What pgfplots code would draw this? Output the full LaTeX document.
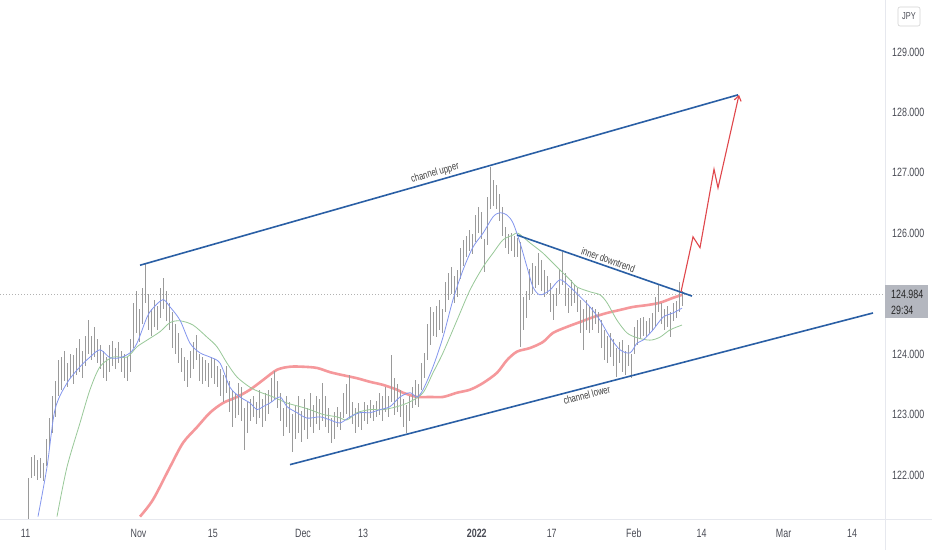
\documentclass[border=0pt]{standalone}
\usepackage{pgfplots}
\pgfplotsset{compat=1.18}
\usepackage{pgfplotstable}
\usetikzlibrary{arrows.meta}
\usepackage{fontspec}
\setmainfont{Liberation Sans}[FakeStretch=0.74]
\definecolor{candle}{HTML}{9A9A9A}
\definecolor{maBlue}{HTML}{8396EE}
\definecolor{maGreen}{HTML}{98C898}
\definecolor{maRed}{HTML}{F4868A}
\definecolor{trend}{HTML}{2A5FA5}
\definecolor{arrowRed}{HTML}{E0474C}
\definecolor{sep}{HTML}{E6E8EE}
\definecolor{lbl}{HTML}{4A4C55}
\definecolor{pbox}{HTML}{B4B7BF}

\pgfplotstableread{
x lo hi
28 121.20 121.95
31 121.95 122.30
34 121.98 122.33
37 121.92 122.25
40 121.95 122.28
43 121.90 122.20
46 122.15 122.60
49 122.45 122.95
52 122.70 123.30
55 122.95 123.55
58 123.30 123.90
61 123.40 123.95
64 123.55 124.05
67 123.45 123.85
70 123.60 124.00
73 123.50 123.98
76 123.65 124.10
79 123.70 124.25
82 123.60 124.05
85 123.80 124.30
88 124.00 124.56
91 123.90 124.30
94 123.95 124.45
97 123.85 124.25
100 123.75 124.15
103 123.60 124.05
106 123.55 123.95
109 123.70 124.15
112 123.80 124.22
115 123.75 124.10
118 123.85 124.20
121 123.70 124.05
124 123.60 124.00
127 123.55 123.95
130 123.70 124.25
133 124.10 124.85
136 124.35 125.05
139 124.20 124.75
142 124.50 125.10
145 124.85 125.51
148 124.40 125.00
151 124.30 124.75
154 124.45 124.90
157 124.40 124.80
160 124.60 125.10
163 124.75 125.26
166 124.55 125.05
169 124.40 124.85
172 124.10 124.70
175 124.00 124.50
178 123.85 124.35
181 123.70 124.10
184 123.55 123.95
187 123.45 123.90
190 123.60 124.05
193 123.75 124.20
196 123.90 124.31
199 123.55 124.00
202 123.50 123.95
205 123.55 123.90
208 123.45 123.85
211 123.60 123.95
214 123.50 123.92
217 123.45 123.80
220 123.30 123.75
223 123.20 123.65
226 123.35 123.80
229 123.05 123.55
232 122.80 123.40
235 122.95 123.35
238 123.00 123.52
241 122.90 123.45
244 122.42 123.10
247 122.70 123.20
250 122.90 123.25
253 122.95 123.30
256 122.85 123.20
259 122.95 123.40
262 122.80 123.25
265 122.90 123.35
268 123.00 123.40
271 123.20 123.60
274 123.25 123.72
277 123.10 123.55
280 122.90 123.35
283 122.65 123.10
286 122.80 123.30
289 122.70 123.20
292 122.38 123.00
295 122.60 123.15
298 122.70 123.30
301 122.55 123.05
304 122.75 123.25
307 122.60 123.10
310 122.80 123.35
313 122.70 123.15
316 122.85 123.30
319 122.75 123.25
322 122.90 123.52
325 122.80 123.30
328 122.70 123.10
331 122.53 122.95
334 122.60 123.05
337 122.80 123.12
340 122.75 123.05
343 122.95 123.35
346 123.00 123.50
349 122.95 123.65
352 122.85 123.20
355 122.70 123.10
358 122.80 123.19
361 122.75 123.05
364 122.90 123.20
367 122.85 123.15
370 122.95 123.24
373 122.90 123.15
376 122.95 123.22
379 123.00 123.35
382 122.90 123.30
385 123.05 123.46
388 122.95 123.30
391 123.20 123.98
394 123.00 123.60
397 123.05 123.50
400 122.95 123.41
403 122.80 123.25
406 122.70 123.15
409 122.90 123.30
412 123.10 123.45
415 123.15 123.57
418 123.12 123.50
421 123.40 123.85
424 123.60 124.02
427 123.90 124.50
430 124.15 124.78
433 124.30 124.70
436 124.28 124.80
439 124.40 124.90
442 124.35 124.75
445 124.70 125.20
448 124.90 125.35
451 125.00 125.44
454 124.85 125.30
457 124.95 125.40
460 125.25 125.75
463 125.45 125.89
466 125.60 125.95
469 125.70 126.05
472 125.65 125.98
475 125.85 126.30
478 126.00 126.43
481 125.90 126.35
484 125.36 125.90
487 125.80 126.60
490 126.40 127.10
493 126.45 126.88
496 126.40 126.80
499 126.20 126.65
502 125.95 126.43
505 125.75 126.10
508 125.65 125.98
511 125.70 126.00
514 125.61 125.95
517 125.60 125.92
520 124.12 125.85
523 124.40 124.95
526 124.60 125.05
529 124.90 125.40
532 125.00 125.50
535 125.10 125.45
538 125.15 125.67
541 125.05 125.55
544 124.95 125.39
547 125.00 125.30
550 124.70 125.17
553 124.56 125.00
556 124.80 125.10
559 125.00 125.40
562 125.15 125.69
565 124.80 125.34
568 124.68 125.10
571 124.80 125.23
574 124.85 125.15
577 124.70 125.10
580 124.35 124.90
583 124.07 124.75
586 124.40 124.90
589 124.35 124.80
592 124.40 124.78
595 124.50 124.75
598 124.35 124.70
601 124.10 124.56
604 123.90 124.40
607 123.85 124.30
610 123.95 124.35
613 123.80 124.25
616 123.62 124.10
619 123.85 124.20
622 123.70 124.23
625 123.65 124.05
628 123.80 124.15
631 123.61 124.00
634 124.00 124.45
637 124.15 124.56
640 124.25 124.60
643 124.30 124.62
646 124.28 124.55
649 124.35 124.60
652 124.38 124.68
655 124.45 124.95
658 124.70 125.14
661 124.50 124.85
664 124.40 124.75
667 124.45 124.80
670 124.28 124.70
673 124.55 124.85
676 124.60 124.88
679 124.70 125.19
682 124.80 125.05
}\bars

\begin{document}
\begin{tikzpicture}
\useasboundingbox (0,0) rectangle (932bp,550bp);
\fill[white] (0,0) rectangle (932bp,550bp);
\begin{axis}[
  at={(0,31bp)}, anchor=south west,
  scale only axis, width=885bp, height=519bp,
  xmin=0, xmax=885, ymin=121.27, ymax=129.86,
  axis line style={draw=none}, tick style={draw=none}, major tick length=0pt,
  xtick={25.6,138.5,212.8,303,363,476.8,551.7,633.8,701.5,783.6,852},
  xticklabels={11,Nov,15,Dec,13,\textbf{2022},17,Feb,14,Mar,14},
  xticklabel style={anchor=base, yshift=-18.5bp, font=\fontsize{12bp}{14bp}\selectfont, text=lbl},
  ytick={122,123,124,126,127,128,129},
  yticklabel pos=right,
  yticklabel={\pgfmathprintnumber[fixed,fixed zerofill,precision=3]{\tick}},
  /pgf/number format/assume math mode=true,
  yticklabel style={anchor=west, inner sep=0pt, xshift=7bp, font=\fontsize{12bp}{14bp}\selectfont, text=lbl},
]
% last price dotted line
\addplot[color=gray!60, line width=0.6bp, dash pattern=on 1bp off 2bp] coordinates {(0,124.984) (885,124.984)};
% 200 MA
\addplot[color=maRed, line width=2.6bp, opacity=0.85, smooth] coordinates {
(140,121.31)(153,121.59)(170,122.13)(183,122.53)(197,122.79)(210,123.03)(223,123.19)(237,123.29)(250,123.41)(263,123.57)(277,123.74)(290,123.79)(303,123.79)(317,123.77)(330,123.70)(343,123.65)(357,123.60)(370,123.54)(383,123.49)(397,123.41)(403,123.36)(417,123.29)(430,123.29)(443,123.29)(457,123.36)(470,123.41)(483,123.52)(497,123.69)(507,123.90)(517,124.04)(530,124.10)(543,124.20)(553,124.35)(567,124.45)(580,124.53)(593,124.61)(607,124.68)(620,124.73)(633,124.78)(647,124.81)(660,124.85)(673,124.93)(682,124.98)};
% candles
\addplot[draw=none, mark=none, forget plot,
  error bars/.cd, y dir=both, y explicit, error mark=none,
  error bar style={draw=candle, solid, line width=1.0bp}]
  table[x=x, y expr=(\thisrow{lo}+\thisrow{hi})/2, y error expr=(\thisrow{hi}-\thisrow{lo})/2] {\bars};
% 50 MA
\addplot[color=maGreen, line width=0.8bp, smooth] coordinates {
(57,121.31)(67,122.13)(80,122.86)(90,123.41)(100,123.79)(113,123.95)(127,123.95)(137,124.12)(147,124.23)(160,124.37)(170,124.52)(180,124.55)(193,124.48)(207,124.28)(217,124.12)(227,123.85)(237,123.62)(250,123.45)(260,123.37)(273,123.29)(287,123.19)(300,123.13)(310,123.08)(323,123.00)(337,122.96)(347,122.91)(357,123.03)(370,123.08)(383,123.08)(397,123.13)(410,123.21)(423,123.36)(433,123.69)(443,124.02)(457,124.56)(470,125.06)(483,125.44)(493,125.67)(503,125.89)(513,125.97)(518,126.00)(530,125.84)(543,125.67)(557,125.44)(570,125.23)(577,125.11)(590,125.03)(600,124.98)(607,124.85)(617,124.56)(627,124.35)(637,124.27)(650,124.23)(660,124.28)(670,124.40)(682,124.48)};
% 20 MA
\addplot[color=maBlue, line width=0.8bp, smooth] coordinates {
(38,121.31)(47,122.13)(55,123.08)(67,123.52)(80,123.79)(90,123.95)(100,124.07)(110,123.94)(120,123.94)(130,124.02)(137,124.18)(147,124.61)(153,124.76)(163,124.90)(170,124.78)(180,124.56)(190,124.18)(200,124.02)(210,123.95)(220,123.85)(230,123.45)(240,123.29)(250,123.19)(257,123.08)(263,123.13)(270,123.19)(280,123.29)(287,123.13)(297,123.03)(307,122.94)(320,122.96)(330,122.91)(340,122.86)(350,122.96)(360,123.03)(370,123.03)(380,123.08)(390,123.13)(400,123.29)(410,123.36)(417,123.29)(423,123.41)(433,123.79)(443,124.28)(453,124.90)(463,125.39)(473,125.77)(483,126.00)(493,126.27)(500,126.34)(507,126.30)(513,126.17)(520,125.84)(527,125.44)(533,125.11)(540,124.98)(550,125.06)(560,125.23)(570,125.11)(580,124.95)(590,124.78)(600,124.56)(610,124.28)(620,124.07)(630,124.02)(637,124.18)(643,124.23)(653,124.40)(663,124.61)(673,124.68)(682,124.76)};
% trend lines
\addplot[color=trend, line width=1.6bp] coordinates {(140,125.47) (738,128.29)}
  node[pos=0.497, sloped, above, inner sep=2bp, text=black!75, font=\fontsize{10.5bp}{12bp}\selectfont] {channel upper};
\addplot[color=trend, line width=1.6bp] coordinates {(290,122.17) (873,124.68)}
  node[pos=0.506, sloped, below, inner sep=2.5bp, text=black!75, font=\fontsize{10.5bp}{12bp}\selectfont] {channel lower};
\addplot[color=trend, line width=1.6bp] coordinates {(517,125.97) (692,124.96)}
  node[pos=0.509, sloped, above, inner sep=2bp, text=black!75, font=\fontsize{10.5bp}{12bp}\selectfont] {inner downtrend};
% projected path
\addplot[color=arrowRed, line width=1.1bp, -{Straight Barb[length=5bp,width=7bp]}] coordinates {
(681,125.03)(693,125.94)(700,125.76)(714,127.06)(718,126.75)(739,128.29)};
\end{axis}
% separators
\draw[sep, line width=0.8bp] (885bp,0) -- (885bp,550bp);
\draw[sep, line width=0.8bp] (0,31bp) -- (932bp,31bp);
% last price box
\fill[pbox] (885bp,232bp) rectangle (928bp,265bp);
\node[anchor=west, inner sep=0pt, text=black!85, font=\fontsize{12bp}{14bp}\selectfont] at (891bp,256bp) {124.984};
\node[anchor=west, inner sep=0pt, text=black!85, font=\fontsize{12bp}{14bp}\selectfont] at (891bp,240bp) {29:34};
% currency box
\draw[gray!35, fill=white, rounded corners=2bp, line width=0.6bp] (898bp,524bp) rectangle (920bp,543bp);
\node[text=lbl, inner sep=0pt, font=\fontsize{10bp}{12bp}\selectfont] at (909bp,533.5bp) {JPY};
\end{tikzpicture}
\end{document}
